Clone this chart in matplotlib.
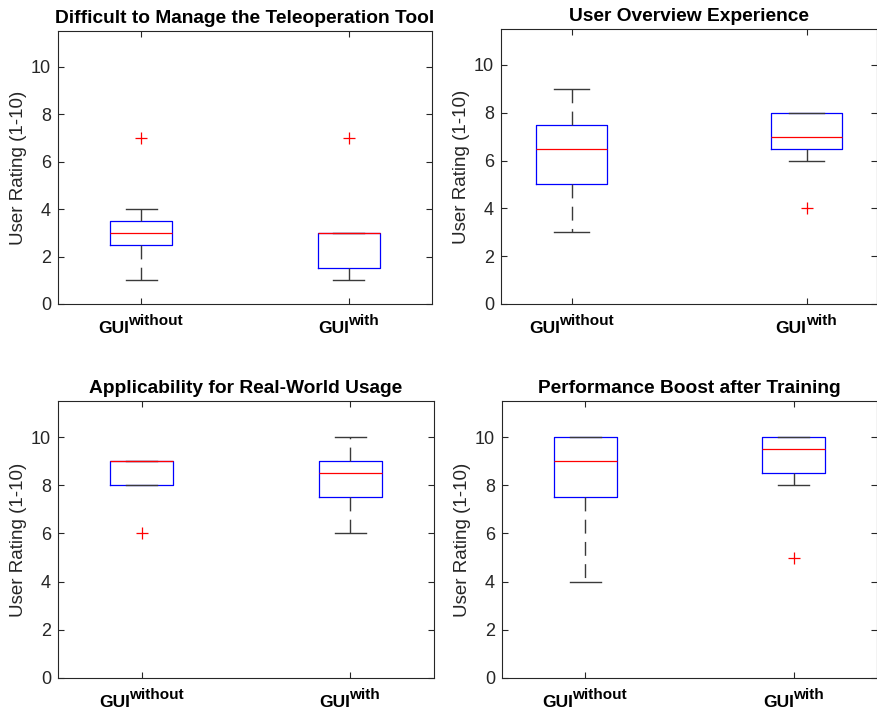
import matplotlib
matplotlib.use('Agg')
from matplotlib import pyplot
from matplotlib import transforms

pyplot.rcParams['font.family'] = ['Liberation Sans', 'DejaVu Sans']

# box statistics, one entry per panel: [without, with]
titles = ['Difficult to Manage the Teleoperation Tool', 'User Overview Experience',
          'Applicability for Real-World Usage', 'Performance Boost after Training']
group_base = ['GUI', 'GUI']
group_sup = ['without', 'with']
whisker_low = [[1, 1], [3, 6], [8, 6], [4, 8]]
q1 = [[2.5, 1.5], [5, 6.5], [8, 7.5], [7.5, 8.5]]
median = [[3, 3], [6.5, 7], [9, 8.5], [9, 9.5]]
q3 = [[3.5, 3], [7.5, 8], [9, 9], [10, 10]]
whisker_high = [[4, 3], [9, 8], [9, 10], [10, 10]]
outliers = [[[7], [7]], [[], [4]], [[6], []], [[], [5]]]

# axes rectangles in pixels (left, top, right, bottom) and x limits
W, H = 878, 713
ax_px = [(58, 31, 432, 304), (501, 29, 877, 304), (58, 401, 434, 678), (502, 401, 877, 678)]
xlims = [(0.6, 2.4), (0.7, 2.3), (0.6, 2.4), (0.6, 2.4)]

fig = pyplot.figure(figsize=(W / 100, H / 100), dpi=100)
renderer = fig.canvas.get_renderer()
grey = '#262626'
for i in range(4):
  l, t, r, b = ax_px[i]
  ax = fig.add_axes([l / W, 1 - b / H, (r - l) / W, (b - t) / H])
  stats = []
  for j in range(2):
    stats.append({'whislo': whisker_low[i][j], 'q1': q1[i][j], 'med': median[i][j],
                  'q3': q3[i][j], 'whishi': whisker_high[i][j], 'fliers': outliers[i][j]})
  ax.bxp(stats, positions=[1, 2], widths=0.3, showfliers=True,
         boxprops=dict(color='blue', linewidth=0.9),
         medianprops=dict(color='red', linewidth=0.9),
         whiskerprops=dict(color='#3a3a3a', linewidth=1.0, linestyle=(0, (10, 6))),
         capprops=dict(color='#3a3a3a', linewidth=1.0),
         capwidths=0.15,
         flierprops=dict(marker='+', markeredgecolor='red', markersize=9, markeredgewidth=0.9))
  ax.set_xlim(xlims[i])
  ax.set_ylim(0, 11.5)
  ax.set_yticks([0, 2, 4, 6, 8, 10])
  ax.set_xticks([1, 2])
  ax.set_xticklabels(['', ''])
  ax.tick_params(axis='y', labelsize=13, colors=grey, direction='in', right=True, length=4, pad=5)
  ax.tick_params(axis='x', colors=grey, direction='in', top=True, length=4)
  for s in ax.spines.values():
    s.set_color(grey)
    s.set_linewidth(0.8)
  ax.set_ylabel('User Rating (1-10)', fontsize=13.5, color=grey, labelpad=3)
  ax.set_title(titles[i], fontsize=13.8, fontweight='bold', pad=6)

  # x tick labels: bold "GUI" with a large bold superscript, centred on the tick
  trans = transforms.blended_transform_factory(ax.transData, ax.transAxes)
  for j in range(2):
    t1 = ax.text(j + 1, 0, group_base[j], transform=trans, fontsize=12.5, fontweight='bold',
                 ha='left', va='baseline')
    t2 = ax.text(j + 1, 0, group_sup[j], transform=trans, fontsize=11, fontweight='bold',
                 ha='left', va='baseline')
    w1 = t1.get_window_extent(renderer).width
    w2 = t2.get_window_extent(renderer).width
    x0 = -(w1 + w2) / 2.0
    t1.set_transform(transforms.offset_copy(trans, fig, x=x0, y=-29, units='dots'))
    t2.set_transform(transforms.offset_copy(trans, fig, x=x0 + w1 - 1, y=-21, units='dots'))

pyplot.savefig('out.png', dpi=100)
pyplot.close()
